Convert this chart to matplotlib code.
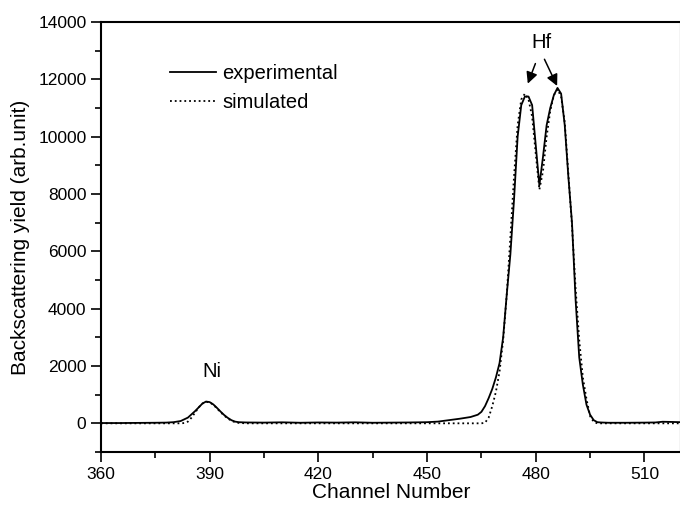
import matplotlib
matplotlib.use('Agg')
import matplotlib.pyplot as plt
from matplotlib.ticker import MultipleLocator

plt.rcParams['font.family'] = ['Liberation Sans', 'DejaVu Sans']

# experimental spectrum (channel, yield)
exp_channel = [360, 365, 370, 375, 378, 380, 382, 384, 386, 388, 389, 390, 391, 392,
               393, 394, 395, 396, 397, 398, 400, 405, 410, 415, 420, 425, 430, 435,
               440, 445, 450, 453, 456, 459, 462, 464, 465, 466, 467, 468, 469, 470,
               471, 472, 473, 474, 475, 476, 477, 478, 479, 480, 481, 482, 483, 484,
               485, 486, 487, 488, 489, 490, 491, 492, 493, 494, 495, 496, 497, 498,
               500, 505, 510, 513, 515, 517, 520]
exp_yield = [10, 10, 15, 20, 25, 40, 80, 200, 430, 690, 760, 740, 660, 540,
             410, 290, 190, 110, 60, 40, 30, 25, 35, 20, 30, 25, 35, 20,
             25, 30, 40, 60, 110, 160, 220, 300, 400, 600, 880, 1200, 1600, 2100,
             3000, 4500, 5900, 7800, 10000, 11100, 11400, 11400, 11100, 9700, 8300, 9300, 10400, 11000,
             11450, 11700, 11500, 10400, 8600, 7000, 4300, 2300, 1350, 650, 300, 110, 40, 30,
             20, 20, 25, 30, 55, 50, 40]

# simulated spectrum
sim_channel = [360, 380, 382, 383, 384, 385, 386, 387, 388, 389, 390, 391, 392, 393,
               394, 395, 396, 397, 398, 400, 465, 466, 467, 468, 469, 470, 471, 472,
               473, 474, 475, 476, 477, 478, 479, 480, 481, 482, 483, 484, 485, 486,
               487, 488, 489, 490, 491, 492, 493, 494, 495, 496, 497, 500, 520]
sim_yield = [0, 0, 0, 10, 60, 200, 380, 560, 690, 750, 730, 650, 520, 390,
             270, 170, 90, 40, 15, 0, 0, 20, 200, 600, 1100, 1800, 2900, 4500,
             6500, 8600, 10400, 11300, 11500, 11300, 10700, 9400, 8150, 8800, 10000, 10900, 11450, 11650,
             11400, 10500, 8700, 6900, 4700, 2900, 1600, 850, 250, 50, 0, 0, 0]

fig = plt.figure(figsize=(6.8, 5.07), dpi=100)
ax = fig.add_axes([0.1485, 0.1085, 0.8525, 0.8481])

ax.plot(exp_channel, exp_yield, color='black', lw=1.3, ls='-', label='experimental')
ax.plot(sim_channel, sim_yield, color='black', lw=1.3, ls=':', label='simulated')

ax.set_xlim(360, 520)
ax.set_ylim(-1000, 14000)
ax.xaxis.set_major_locator(MultipleLocator(30))
ax.xaxis.set_minor_locator(MultipleLocator(15))
ax.set_yticks(range(0, 14001, 2000))
ax.yaxis.set_minor_locator(MultipleLocator(1000))
ax.tick_params(which='major', direction='out', length=7, width=1.2, labelsize=12.5)
ax.tick_params(which='minor', direction='out', length=4, width=1.2)
for s in ax.spines.values():
    s.set_linewidth(1.5)

ax.set_xlabel('Channel Number', fontsize=15)
ax.set_ylabel('Backscattering yield (arb.unit)', fontsize=15)
ax.yaxis.set_label_coords(-0.122, 0.5)
ax.xaxis.set_label_coords(0.5, -0.072)

ax.text(390.6, 1800, 'Ni', fontsize=14.5, ha='center', va='center')
ax.text(481.6, 13300, 'Hf', fontsize=14.5, ha='center', va='center')
arrow = dict(arrowstyle='-|>', color='black', lw=1.1, mutation_scale=17, shrinkA=0, shrinkB=0)
ax.annotate('', xy=(477.8, 11850), xytext=(479.9, 12550), arrowprops=arrow)
ax.annotate('', xy=(485.9, 11770), xytext=(482.4, 12700), arrowprops=arrow)

ax.legend(loc='upper left', bbox_to_anchor=(0.088, 0.945), frameon=False,
          fontsize=14.5, handlelength=2.3, handletextpad=0.3, labelspacing=0.5)

fig.savefig('out.png', dpi=100)
